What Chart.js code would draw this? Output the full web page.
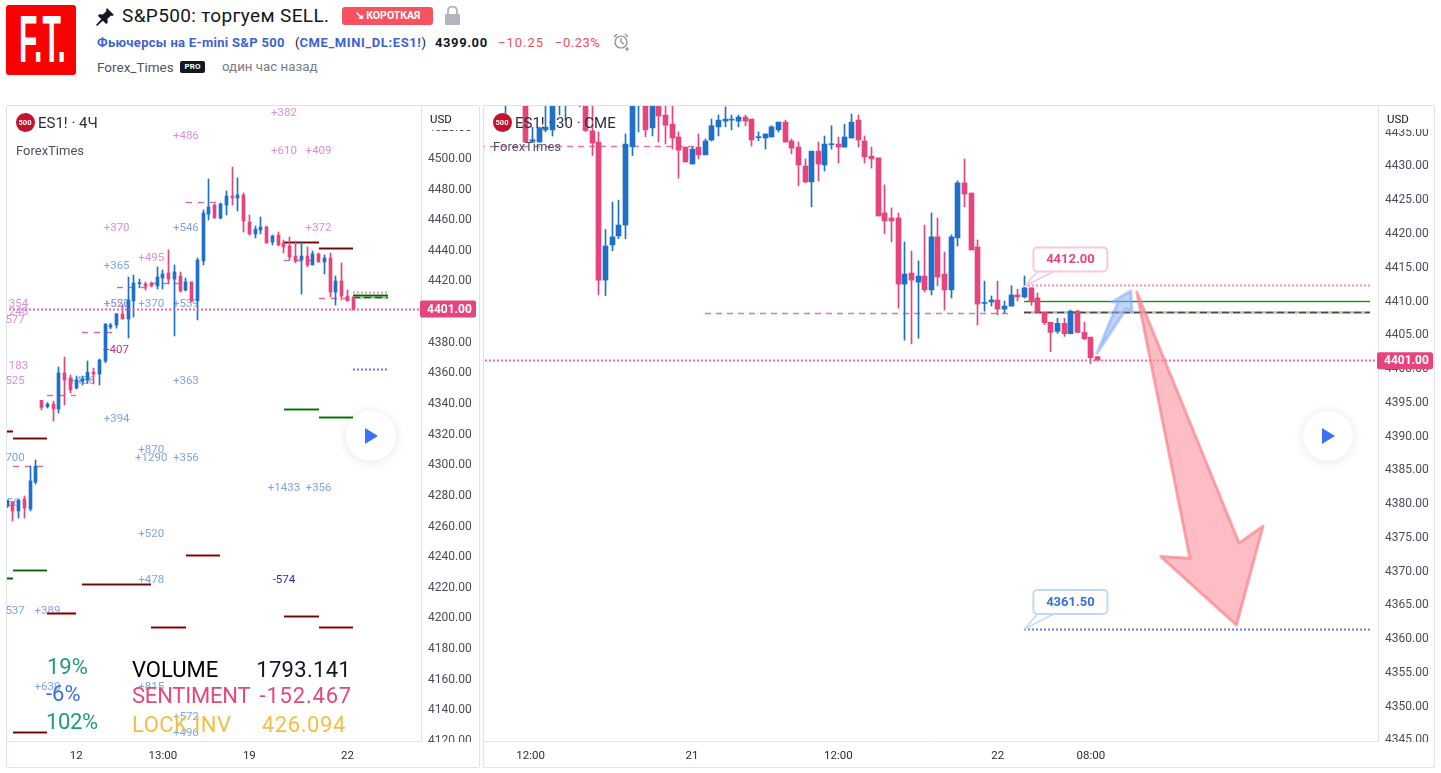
<!DOCTYPE html>
<html lang="ru"><head><meta charset="utf-8"><title>S&P500: торгуем SELL.</title>
<script src="https://cdn.jsdelivr.net/npm/chart.js@4/dist/chart.umd.js"></script>
<style>
html,body{margin:0;padding:0;background:#fff;width:1441px;height:773px;overflow:hidden;font-family:Roboto,Arial,sans-serif}
.a{position:absolute;white-space:nowrap}
.panel{position:absolute;box-sizing:border-box;border:1px solid #e0e3eb;border-radius:2px}
canvas{display:block;position:absolute;left:0;top:0}
.play{position:absolute;width:50px;height:50px;border-radius:50%;background:#fff;box-shadow:0 1px 12px rgba(0,0,0,.10)}
.play svg{position:absolute;left:18px;top:16px}
.badge500{position:absolute;width:19px;height:19px;border-radius:50%;background:#c3112e;color:#fff;font:bold 7.5px/19px Roboto;text-align:center}
</style></head><body>
<div class="a" style="left:6px;top:5px;width:70px;height:70px;background:#fb0000;border-radius:3px;overflow:hidden">
 <div class="a" style="left:13px;top:-1px;color:#fff;font:bold 67px/70px 'Liberation Sans';transform:scaleX(.45);transform-origin:0 0">F.T.</div></div>
<svg class="a" style="left:96px;top:8px" width="18" height="18" viewBox="0 0 18 18"><path d="M11 0l7 7-2 1-1-.5-3.6 3.6.4 3.4-1.6 1.6-3.4-3.4L1 18l-1-1 5.300-5.800L1.900 7.800 3.500 6.200l3.400.4L10.500 3 10 2z" fill="#131722"/></svg>
<div class="a" style="left:122px;top:5px;font-size:19px;letter-spacing:.35px;line-height:22px;color:#131722">S&amp;P500: торгуем SELL.</div>
<div class="a" style="left:342px;top:7px;width:91px;height:18px;background:#f7525f;border-radius:3px;color:#fff;font:bold 10.500px/18px Roboto;text-align:center">↘ КОРОТКАЯ</div>
<svg class="a" style="left:445px;top:6px" width="15" height="19" viewBox="0 0 15 19"><path d="M3 8V5a4.500 4.500 0 0 1 9 0v3" fill="none" stroke="#b2b5be" stroke-width="2"/><rect y="8" width="15" height="11" rx="1" fill="#b2b5be"/></svg>
<div class="a" style="left:97px;top:35px;font:bold 13px/16px Roboto;letter-spacing:.3px;color:#3f62d1">Фьючерсы на E-mini S&amp;P 500</div>
<div class="a" style="left:295px;top:35px;font:13px/16px Roboto;color:#131722">(<b style="color:#3f62d1;letter-spacing:.6px">CME_MINI_DL:ES1!</b>)</div>
<div class="a" style="left:435px;top:35px;font:bold 13px/16px Roboto;letter-spacing:.6px;color:#131722">4399.00</div>
<div class="a" style="left:498px;top:35px;font:13px/16px Roboto;letter-spacing:1px;color:#e8505b">−10.25</div>
<div class="a" style="left:555px;top:35px;font:13px/16px Roboto;letter-spacing:.5px;color:#e8505b">−0.23%</div>
<svg class="a" style="left:613px;top:33px" width="18" height="18" viewBox="0 0 18 18" fill="none" stroke="#878a94" stroke-width="1.200"><circle cx="8" cy="9" r="6"/><path d="M8 5v4l3 2M1 4l3-3M12 1l3 3M14 14v4M12 16h4"/></svg>
<div class="a" style="left:97px;top:59px;font:13.500px/16px Roboto;color:#50535e">Forex_Times</div>
<div class="a" style="left:180px;top:61px;width:25px;height:12px;background:#131722;border-radius:2px;color:#fff;font:bold 8px/12px Roboto;text-align:center">PRO</div>
<div class="a" style="left:222px;top:59px;font:13.300px/16px Roboto;color:#787b86">один час назад</div>

<div class="panel" style="left:6px;top:105px;width:474px;height:663px"></div>
<div class="panel" style="left:483px;top:105px;width:952px;height:663px"></div>
<div id="lw" class="a" style="left:7px;top:106px;width:473px;height:661px"><canvas id="leftChart" width="473" height="661"></canvas></div>
<div id="rw" class="a" style="left:484px;top:106px;width:951px;height:661px"><canvas id="rightChart" width="951" height="661"></canvas></div>

<div class="badge500" style="left:15.500px;top:112.500px">500</div>
<div class="a" style="left:38px;top:114px;font-size:15px;line-height:18px;color:#2a2e39">ES1! · 4Ч</div>
<div class="a" style="left:16px;top:143px;font-size:13px;line-height:16px;color:#50535e">ForexTimes</div>
<div class="a" style="left:430px;top:112px;font-size:11.500px;line-height:14px;color:#131722">USD</div>
<div class="badge500" style="left:492.500px;top:112.500px">500</div>
<div class="a" style="left:515px;top:114px;font-size:15px;line-height:18px;color:#2a2e39">ES1! · 30 · CME</div>
<div class="a" style="left:493px;top:139px;font-size:13px;line-height:16px;color:#50535e">ForexTimes</div>
<div class="a" style="left:1387px;top:112px;font-size:11.500px;line-height:14px;color:#131722">USD</div>

<div class="play" style="left:346px;top:411px"><svg width="16" height="18"><path d="M1 1l13 8-13 8z" fill="#3c72f6"/></svg></div>
<div class="play" style="left:1303px;top:411px"><svg width="16" height="18"><path d="M1 1l13 8-13 8z" fill="#3c72f6"/></svg></div>

<div class="a" style="left:47px;top:654px;font-size:22px;line-height:26px;color:#1f9b7d">19%</div>
<div class="a" style="left:46px;top:681px;font-size:22px;line-height:26px;color:#3d6ee0">-6%</div>
<div class="a" style="left:46px;top:709px;font-size:22px;line-height:26px;letter-spacing:-.4px;color:#1f9b7d">102%</div>
<div class="a" style="left:132px;top:657px;font-size:22px;line-height:26px;color:#000">VOLUME</div>
<div class="a" style="left:132px;top:683px;font-size:22px;line-height:26px;letter-spacing:-.2px;color:#e2497d">SENTIMENT</div>
<div class="a" style="left:132px;top:712px;font-size:22px;line-height:26px;letter-spacing:.5px;color:#efc044">LOCK INV</div>
<div class="a" style="right:1090px;top:657px;font-size:22px;line-height:26px;letter-spacing:.3px;color:#131722">1793.141</div>
<div class="a" style="right:1089px;top:683px;font-size:22px;line-height:26px;letter-spacing:.8px;color:#e2497d">-152.467</div>
<div class="a" style="right:1095px;top:712px;font-size:22px;line-height:26px;letter-spacing:.6px;color:#efc044">426.094</div>

<script>
// ---------- LEFT CHART (ES1! 4H) ----------
const leftOpen  = [4272.4,4274.8,4269.2,4277,4270.5,4288.1,4341.4,4337.3,4339,4335.8,4359.3,4356,4349.5,4354,4354.7,4359.9,4358.6,4367.1,4389.3,4390.6,4397.8,4394.5,4406.3,4417.6,4417.4,4418,4416.1,4421.3,4424.5,4420.6,4422.6,4413.4,4418.7,4406.3,4432.4,4463,4468.9,4460.4,4468.9,4474.8,4473.5,4475.5,4457.8,4450,4452.6,4454.6,4444.8,4449.3,4444.1,4442.2,4435.6,4433,4435.6,4429.8,4437,4431.7,4434.3,4412.1,4419.3,4409.5,4408.9];
const leftHigh  = [4276.5,4275.5,4277,4279,4298.5,4302.5,4341.4,4339.9,4341,4363.2,4369.7,4358,4357.3,4357.3,4367.1,4362.5,4368.4,4391.5,4391.7,4398.2,4403.6,4421.9,4423.2,4420.6,4418.7,4418.7,4428.4,4426.5,4439.6,4429.8,4425.2,4421.3,4418.7,4434.3,4465.7,4485.9,4469.6,4470.2,4478.1,4493.7,4486.6,4476.8,4462.4,4455.2,4461.1,4455.2,4449.3,4451.3,4446.1,4448,4445.4,4444.8,4441.5,4438.9,4437.6,4436.3,4437.6,4422.6,4431.1,4413.4,4408.9];
const leftLow   = [4271.5,4262.6,4264.6,4264.6,4269.2,4286.8,4335.1,4336.4,4327.9,4333.1,4338.4,4346.2,4348.8,4351.4,4352.5,4352.1,4351.4,4366,4388,4388.6,4394.5,4382.1,4395.8,4414.8,4413.4,4415.4,4414.1,4414.1,4417.4,4383.4,4412.1,4412.8,4405.6,4393.9,4429.8,4459.1,4460.4,4459.8,4462.4,4468.9,4465,4451.3,4449.3,4447.4,4450,4444.1,4442.8,4442.2,4437.6,4433,4431.1,4410.8,4428.5,4429.8,4431.7,4423.9,4408.9,4403.6,4406.9,4406.3,4400.4];
const leftClose = [4275.9,4269.2,4276.3,4271.1,4288.8,4298.5,4336.8,4339,4335.8,4359.3,4354.7,4348.2,4354.7,4355.3,4359.7,4358.6,4367.7,4391.2,4390.6,4397.8,4394.5,4406.9,4418,4417.8,4416.1,4416.1,4421.9,4423.9,4420.6,4425.2,4412.8,4418.7,4406.3,4433,4463.7,4467.6,4460.4,4469.6,4474.8,4473.5,4475.5,4458.5,4450,4453.2,4454.6,4444.1,4448.7,4442.8,4441.5,4435,4432.4,4435.6,4429.8,4437,4431.7,4434.3,4412.1,4419.3,4409.5,4406.3,4400.4];
const leftTickIndex = [12,27,42,59];
const leftTickLabel = ["12","13:00","19","22"];
const leftResistance = [[0,1,4321.4],[1,7,4316.4],[7,12,4202.4],[13,25,4221.3],[25,31,4193.3],[31,37,4240.3],[48,54,4444.3],[54,60,4440.4],[48,54,4200.2],[54,60,4193.3],[1,7,4124.5]];
const leftSupport = [[0,1,4225.3],[1,7,4230.5],[48,54,4335.3],[54,60,4330.4],[60,66,4410]];
const leftDashed = [[31,37,4470.7],[19,25,4414.9],[25,31,4417.6],[13,19,4385.6],[7,12,4344.5],[1,7,4298],[48,54,4433],[54,60,4408.2]];
const leftTargetUp = [[60,66,4412]];
const leftTargetDown = [[60,66,4361.7]];
const leftEntry = [[60,66,4408.4]];
const leftPurpleLabels = [[48,4529.6,"+382"],[31,4514.6,"+486"],[48,4504.8,"+610"],[54,4504.8,"+409"],[19,4454.6,"+370"],[54,4454.6,"+372"],[25,4435,"+495"],[19,4405,"+557"],[2,4405,"354"],[2,4399.7,"248"],[1.4,4394.5,"577"],[2,4364.5,"183"],[1.4,4354.7,"525"]];
const leftBlueLabels = [[31,4454.6,"+546"],[19,4429.8,"+365"],[25,4405,"+370"],[31,4405,"+539"],[19,4405,"+526"],[13,4354.7,"+486"],[31,4354.7,"+363"],[19,4329.9,"+394"],[25,4309.6,"+870"],[25,4304.4,"+1290"],[31,4304.4,"+356"],[1.4,4304.4,"700"],[48,4284.9,"+1433"],[54,4284.9,"+356"],[0.5,4275,"356"],[25,4254.8,"+520"],[25,4224.8,"+478"],[1.4,4204.6,"537"],[7,4204.6,"+389"],[7,4155,"+630"],[25,4155,"+815"],[31,4135.4,"+572"],[31,4125,"+496"]];
const leftDarkLabels = [[48,4224.8,"-574","#2b2bd0"],[18.9,4375,"+407","#c2308c"]];

// ---------- RIGHT CHART (ES1! 30) ----------
const rightOpen  = [4441,4443,4441,4440,4442,4441,4441,4433.5,4433.4,4435.2,4435.2,4439,4439.5,4441,4440,4440,4435.05,4433.4,4412.95,4418.15,4419.5,4421.1,4432.7,4440,4440,4435.5,4440,4437.4,4436.05,4434.15,4432.65,4430.15,4432.65,4431.5,4433.7,4435.65,4436.5,4436.65,4436.5,4437.1,4436.8,4434.05,4434,4434.15,4435.2,4436.35,4433.55,4432.65,4429.85,4427.5,4432.05,4430,4433,4433.1,4432.65,4434,4436.65,4433.55,4431.3,4431.05,4422.9,4422.15,4422.15,4412.35,4414,4412.65,4413.55,4411.5,4419.35,4413.85,4411.5,4419.2,4427.35,4425.85,4417.85,4409.5,4409.7,4410,4408.65,4409.1,4410.75,4410.45,4411.8,4410.3,4408.2,4406.7,4405.35,4406.55,4405,4408.35,4405.2,4404.5,4401.6];
const rightHigh  = [4444,4444,4443,4443,4443,4443,4442,4435.6,4435.6,4439,4441,4441,4442,4443,4442,4441,4439,4434.9,4420.45,4424.5,4424.8,4434.6,4441,4442,4441,4441,4441,4439,4439,4434.9,4432.65,4432.65,4434.6,4433.85,4436.8,4437.4,4438.6,4437.4,4437.4,4437.4,4436.8,4434.9,4434.6,4435.8,4436.35,4436.65,4433.85,4433.4,4430.9,4432.05,4433.4,4434.3,4435.8,4434.15,4436.05,4437.55,4437.4,4434.3,4432.65,4431.05,4427.05,4423.65,4422.9,4418.6,4417.25,4415.8,4421.1,4422.9,4422.15,4417.1,4419.65,4427.65,4430.9,4425.85,4418.9,4412.8,4410.6,4412.8,4409.85,4412.1,4411.6,4413.55,4411.8,4411.05,4408.2,4406.7,4407.3,4407.3,4408.5,4408.5,4406.7,4404.5,4401.6];
const rightLow   = [4440,4440.5,4440,4437.65,4440,4440,4433.4,4433.4,4433.4,4434.9,4434.3,4437.4,4436.65,4440,4438.65,4434.95,4431.4,4410.75,4410.65,4417.3,4419.1,4419.1,4431.4,4434.9,4434.2,4434.3,4433.4,4433.1,4432.35,4428.05,4430.45,4430.15,4430.9,4431.5,4433.55,4434.3,4435.65,4435.2,4435.65,4435.8,4432.8,4433.6,4432.35,4434.15,4434.9,4433.4,4431.65,4426.9,4427.35,4423.8,4427.65,4429.1,4432.35,4430.3,4432.65,4434,4432.65,4430.3,4429.55,4422.45,4419.8,4418.6,4408.8,4404.05,4403.5,4404.35,4411.2,4410.75,4412.1,4408.5,4410.3,4418,4423.8,4417.4,4406.3,4408.35,4409.1,4407.8,4408.05,4409.1,4409.85,4410.3,4409.2,4408.2,4406.35,4402.35,4405.05,4404.6,4405,4405.2,4404.15,4400.6,4401.05];
const rightClose = [4443,4441.5,4442,4442,4441,4442,4433.4,4433.75,4435.5,4435.6,4439.5,4440,4441,4442,4441,4435.1,4433.25,4412.95,4418,4419.35,4421.1,4433.1,4440,4441,4435.2,4440,4437.25,4435.9,4434,4432.2,4430.45,4432.35,4431.5,4433.55,4435.8,4436.65,4436.8,4436.75,4437.1,4436.5,4433.7,4434.15,4434.6,4435.65,4436.35,4433.4,4432.5,4430,4427.5,4432.05,4430.15,4433.1,4433.1,4432.65,4434.15,4436.35,4433.7,4431.2,4430.9,4422.45,4421.7,4421.7,4412.35,4413.85,4412.95,4413.55,4411.5,4419.35,4413.4,4411.5,4419.35,4427.35,4425.7,4417.4,4409.4,4409.6,4410,4408.65,4409.1,4410.75,4410.45,4411.8,4409.8,4408.2,4406.65,4405.2,4406.55,4405,4408.35,4405.2,4404.25,4401.45,4401.05];
const rightTickIndex = [6.7,31,53,77,91];
const rightTickLabel = ["12:00","21","12:00","22","08:00"];
const rightDashed = [[-1,32,4432.8],[33,78.5,4408.07]];
const rightTargetUp = [[81,133,4412.1]];
const rightTargetDown = [[81,133,4361.25]];
const rightStop = [[81,133,4409.85]];
const rightEntry = [[81,133,4408.1]];
const rightRedArrow = [[97.9,4411.2],[113.3,4374],[116.9,4376.5],[112.9,4361.85],[101.5,4372],[105.9,4371.75]];
const rightBlueArrow = [[91.9,4402.1],[95.1,4409.7],[94.2,4409.7],[97,4411.35],[97.2,4408.2],[96.3,4408.65]];
const lastPrice = 4401;

const UP='#1e71c9', DOWN='#e6447d';
const F=(s,w)=>(w||'')+' '+s+'px Roboto';

function candleSets(o,h,l,c,bodyW){
  const col=o.map((v,i)=>c[i]>=v?UP:DOWN);
  return [
   {type:'bar',order:3,grouped:false,barThickness:1,backgroundColor:col,borderWidth:0,
    data:o.map((v,i)=>({x:i,y:[l[i],h[i]]}))},
   {type:'bar',order:2,grouped:false,barThickness:bodyW,backgroundColor:col,borderWidth:0,minBarLength:1,
    data:o.map((v,i)=>({x:i,y:[Math.min(v,c[i]),Math.max(v,c[i])]}))}
  ];
}
function lines(segs,style){
  return segs.map(s=>Object.assign({type:'line',order:5,pointRadius:0,fill:false,tension:0,
    data:[{x:s[0],y:s[2]},{x:s[1],y:s[2]}]},style));
}
const snap={id:'snap',afterDatasetsUpdate(ch){
  ch.getSortedVisibleDatasetMetas().forEach(m=>{
    if(m.type==='bar') m.data.forEach(el=>{el.x=Math.round(el.x-0.5)+0.5;});
    if(m.type==='line') m.data.forEach(el=>{el.y=Math.round(el.y-0.5)+0.5;el.x=Math.round(el.x);});
  });
}};
function overlay(cfg){return {id:'overlay',
 beforeDatasetsDraw(ch){
  const {ctx,chartArea:a,scales:{x,y}}=ch;
  ctx.save();ctx.beginPath();ctx.rect(a.left,a.top,a.right-a.left,a.bottom-a.top);ctx.clip();
  ctx.textAlign='center';ctx.textBaseline='middle';ctx.font=F(11.5);
  (cfg.labels||[]).forEach(g=>g.items.forEach(t=>{ctx.fillStyle=t[3]||g.color;ctx.fillText(t[2],x.getPixelForValue(t[0]),y.getPixelForValue(t[1])+1);}));
  ctx.restore();
 },
 afterDatasetsDraw(ch){
  const {ctx,chartArea:a,scales:{x,y}}=ch;
  ctx.save();ctx.beginPath();ctx.rect(a.left,a.top,a.right-a.left,a.bottom-a.top);ctx.clip();
  (cfg.polys||[]).forEach(p=>{
    ctx.beginPath();p.pts.forEach((q,i)=>{const X=x.getPixelForValue(q[0]),Y=y.getPixelForValue(q[1]);i?ctx.lineTo(X,Y):ctx.moveTo(X,Y);});
    ctx.closePath();ctx.fillStyle=p.fill;ctx.fill();ctx.strokeStyle=p.stroke;ctx.lineWidth=3;ctx.lineJoin='round';ctx.stroke();
  });
  ctx.textAlign='center';ctx.textBaseline='middle';
  (cfg.callouts||[]).forEach(c=>{
    const X=x.getPixelForValue(c.i),Y=y.getPixelForValue(c.v);
    const bx=X+9,by=Y+c.dy,bw=74,bh=24;
    ctx.beginPath();ctx.moveTo(X,Y);ctx.lineTo(bx+4,by+bh);ctx.lineTo(bx+20,by+bh);ctx.closePath();
    ctx.fillStyle='#fff';ctx.fill();ctx.strokeStyle=c.border;ctx.lineWidth=1.5;ctx.stroke();
    ctx.beginPath();ctx.roundRect(bx,by,bw,bh,4);ctx.fillStyle='#fff';ctx.fill();ctx.lineWidth=2;ctx.strokeStyle=c.border;ctx.stroke();
    ctx.fillStyle=c.color;ctx.font=F(13,'bold');ctx.fillText(c.text,bx+bw/2,by+bh/2+0.5);
  });
  ctx.restore();
 },
 afterDraw(ch){
  const {ctx,chartArea:a,scales:{y}}=ch;
  ctx.save();ctx.fillStyle='#fff';
  ctx.fillRect(a.right+1,0,ch.width-a.right-2,cfg.topCover);
  ctx.fillRect(a.right+1,a.bottom+1,ch.width-a.right-2,ch.height-a.bottom-1);
  const Y=y.getPixelForValue(lastPrice);
  ctx.fillStyle=DOWN;ctx.beginPath();ctx.roundRect(a.right-1,Y-8.5,cfg.tagW,17,2);ctx.fill();
  ctx.fillStyle='#fff';ctx.font=F(12,'bold');ctx.textAlign='left';ctx.textBaseline='middle';
  ctx.fillText(lastPrice.toFixed(2),a.right+6,Y+0.5);
  ctx.restore();
 }};}
function make(id,sets,xMin,xMax,yMin,yMax,step,axisW,tIdx,tLab,ov){
 return new Chart(document.getElementById(id),{type:'bar',
  data:{datasets:sets},
  plugins:[snap,ov],
  options:{responsive:false,animation:false,devicePixelRatio:1,
   layout:{padding:0},
   plugins:{legend:{display:false},tooltip:{enabled:false}},
   scales:{
    x:{type:'linear',offset:false,min:xMin,max:xMax,
       afterBuildTicks(s){s.ticks=tIdx.map(v=>({value:v}));},
       afterFit(s){s.height=26;s.paddingLeft=0;s.paddingRight=0;},
       grid:{display:false,drawTicks:false},border:{display:true,color:'#e0e3eb'},
       ticks:{autoSkip:false,maxRotation:0,includeBounds:false,padding:8,color:'#2a2e39',font:{family:'Roboto',size:11.5},
        callback(v){return tLab[tIdx.indexOf(v)];}}},
    y:{type:'linear',position:'right',min:yMin,max:yMax,beginAtZero:false,
       afterFit(s){s.width=axisW;s.paddingTop=0;s.paddingBottom=0;},
       grid:{display:false,drawTicks:false},border:{display:true,color:'#e0e3eb'},
       ticks:{stepSize:step,padding:7,labelOffset:1.5,color:'#4a4d57',font:{family:'Roboto',size:12},includeBounds:false,
        callback(v){return v.toFixed(2);}}}
   }}});
}
const RES={borderColor:'#6f0505',borderWidth:1.6},RESH={borderColor:'rgba(215,110,110,.55)',borderWidth:3.2,order:6};
const SUP={borderColor:'#0f5f12',borderWidth:1.6},SUPH={borderColor:'rgba(125,205,125,.6)',borderWidth:3.2,order:6};
const DASH={borderColor:'#d966a8',borderWidth:1.4,borderDash:[6,6]};
const DASH2={borderColor:'#de74b0',borderWidth:1.4,borderDash:[6,5]};
const DOTP={borderColor:'#f08cc8',borderWidth:2,borderDash:[2,2]};
const DOTB={borderColor:'#7a74ee',borderWidth:2,borderDash:[2,2]};
const ENTRY={borderColor:'#5c4040',borderWidth:1.5,borderDash:[7,4]},ENTRYH={borderColor:'#9dd09d',borderWidth:2.6,order:6};
const LAST={borderColor:'#e868b0',borderWidth:2,borderDash:[2,2],order:1};

const leftSets=[...candleSets(leftOpen,leftHigh,leftLow,leftClose,3),
 ...lines(leftResistance,RESH),...lines(leftResistance,RES),
 ...lines(leftSupport,SUPH),...lines(leftSupport,SUP),
 ...lines(leftDashed,DASH),...lines(leftTargetUp,DOTP),...lines(leftTargetDown,DOTB),
 ...lines(leftEntry,ENTRYH),...lines(leftEntry,ENTRY),
 ...lines([[-1,72,lastPrice]],LAST)];
make('leftChart',leftSets,0,414/5.77,4119.06,4533.55,20,59,leftTickIndex,leftTickLabel,overlay({
 topCover:24,tagW:56,
 labels:[{color:'#dc8ed8',items:leftPurpleLabels},{color:'#7fa3e6',items:leftBlueLabels},{color:'#333',items:leftDarkLabels}]}));

const rightSets=[...candleSets(rightOpen,rightHigh,rightLow,rightClose,5),
 ...lines(rightDashed,DASH2),...lines(rightTargetUp,DOTP),...lines(rightTargetDown,DOTB),
 ...lines(rightStop,{borderColor:'#c3e6c3',borderWidth:2.4,order:6}),...lines(rightStop,{borderColor:'#2f7a33',borderWidth:1}),
 ...lines(rightEntry,ENTRYH),...lines(rightEntry,ENTRY),
 ...lines([[-2,135,lastPrice]],LAST)];
make('rightChart',rightSets,-2/6.647,892/6.647,4344.67,4438.74,5,57,rightTickIndex,rightTickLabel,overlay({
 topCover:23,tagW:56,
 polys:[{pts:rightBlueArrow,fill:'rgba(130,170,250,.5)',stroke:'rgba(130,170,250,.55)'},
        {pts:rightRedArrow,fill:'rgba(250,150,160,.62)',stroke:'rgba(248,125,135,.65)'}],
 callouts:[{i:81,v:4412,dy:-39,text:'4412.00',color:'#e6447d',border:'#f9c8da'},
           {i:81,v:4361.25,dy:-39,text:'4361.50',color:'#3a6fe0',border:'#c3d7f8'}]}));
</script>
</body></html>
